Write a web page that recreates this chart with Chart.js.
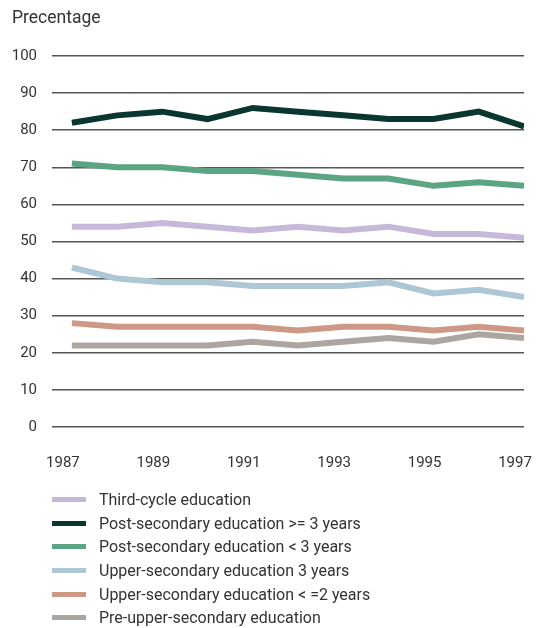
<!DOCTYPE html>
<html>
<head>
<meta charset="utf-8">
<script src="https://cdn.jsdelivr.net/npm/chart.js@4.4.1/dist/chart.umd.min.js"></script>
<style>
  html, body { margin: 0; padding: 0; background: #fff; }
  body { width: 536px; height: 628px; position: relative; overflow: hidden; font-family: Roboto, sans-serif; }
  #wrap { position: absolute; left: 0; top: 0; width: 536px; height: 507px; }
  #legend { position: absolute; left: 52px; top: 488px; }
  .item { display: flex; align-items: center; height: 23.6px; font-size: 16px; color: #333; }
  .swatch { width: 34px; height: 5px; margin-right: 13px; }
</style>
</head>
<body>
<div id="wrap"><canvas id="chart"></canvas></div>
<div id="legend"></div>
<script>
const years = [1987, 1988, 1989, 1990, 1991, 1992, 1993, 1994, 1995, 1996, 1997];
const tickYears = [1987, 1989, 1991, 1993, 1995, 1997];
const yTicks = [0, 10, 20, 30, 40, 50, 60, 70, 80, 90, 100];

const seriesNames = [
  'Third-cycle education',
  'Post-secondary education >= 3 years',
  'Post-secondary education < 3 years',
  'Upper-secondary education 3 years',
  'Upper-secondary education < =2 years',
  'Pre-upper-secondary education'
];
const thirdCycle = [54, 54, 55, 54, 53, 54, 53, 54, 52, 52, 51];
const postSec3Plus = [82, 84, 85, 83, 86, 85, 84, 83, 83, 85, 81];
const postSecLess3 = [71, 70, 70, 69, 69, 68, 67, 67, 65, 66, 65];
const upperSec3 = [43, 40, 39, 39, 38, 38, 38, 39, 36, 37, 35];
const upperSec2 = [28, 27, 27, 27, 27, 26, 27, 27, 26, 27, 26];
const preUpperSec = [22, 22, 22, 22, 23, 22, 23, 24, 23, 25, 24];

const colors = ['#c6b8d9', '#0a3630', '#5ba484', '#adc8d4', '#cd9985', '#aba6a2'];
const allSeries = [thirdCycle, postSec3Plus, postSecLess3, upperSec3, upperSec2, preUpperSec];

const datasets = allSeries.map((vals, i) => ({
  label: seriesNames[i],
  data: vals.map((v, j) => ({ x: years[j], y: v })),
  borderColor: colors[i],
  backgroundColor: colors[i],
  borderWidth: 6,
  borderJoinStyle: 'miter',
  borderCapStyle: 'butt',
  pointRadius: 0,
  tension: 0,
  fill: false
}));

const ctx = document.getElementById('chart').getContext('2d');
const chart = new Chart(ctx, {
  type: 'line',
  data: { datasets: datasets },
  options: {
    responsive: true,
    maintainAspectRatio: false,
    animation: false,
    layout: { padding: { left: 12, right: 12, top: 6, bottom: 8 } },
    plugins: {
      legend: { display: false },
      tooltip: { enabled: false },
      title: {
        display: true,
        text: 'Precentage',
        align: 'start',
        color: '#333',
        font: { family: 'Roboto', size: 17.5, weight: 'normal' },
        padding: { top: 2, bottom: 27 }
      }
    },
    scales: {
      x: {
        type: 'linear',
        min: 1986.56,
        max: 1997,
        grid: { display: false, drawTicks: false },
        border: { display: false },
        afterBuildTicks: axis => { axis.ticks = tickYears.map(v => ({ value: v })); },
        afterFit: axis => { axis.paddingLeft = 0; axis.paddingRight = 0; },
        ticks: {
          color: '#333',
          font: { family: 'Roboto', size: 15 },
          padding: 27,
          maxRotation: 0,
          labelOffset: -9,
          callback: v => String(v)
        }
      },
      y: {
        min: 0,
        max: 100,
        afterBuildTicks: axis => { axis.ticks = yTicks.map(v => ({ value: v })); },
        afterFit: axis => { axis.width = 40; },
        grid: { color: '#555', lineWidth: 1.5, drawTicks: false },
        border: { display: false },
        ticks: {
          color: '#333',
          font: { family: 'Roboto', size: 15 },
          padding: 15
        }
      }
    }
  }
});

// legend as html, one item per row
const legendEl = document.getElementById('legend');
chart.data.datasets.forEach(ds => {
  const row = document.createElement('div');
  row.className = 'item';
  const sw = document.createElement('span');
  sw.className = 'swatch';
  sw.style.background = ds.borderColor;
  const txt = document.createElement('span');
  txt.textContent = ds.label;
  row.appendChild(sw);
  row.appendChild(txt);
  legendEl.appendChild(row);
});
</script>
</body>
</html>
